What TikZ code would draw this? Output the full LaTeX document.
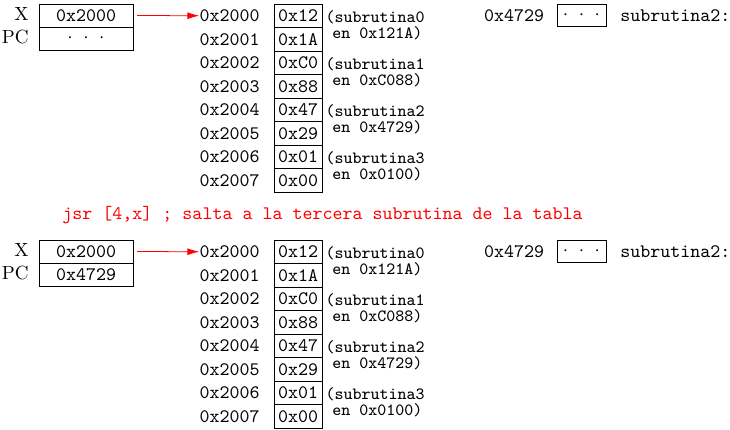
\documentclass[tikz,border=0pt]{standalone}
\usepackage{fontspec}
\usetikzlibrary{arrows.meta}
\newcommand\spreaddots{$\cdot\mkern6mu\cdot\mkern6mu\cdot$}
\tikzset{
  regcell/.style={draw, inner sep=0pt, minimum width={94*0.525pt}, minimum height={23*0.525pt}, font=\ttfamily},
  memcell/.style={draw, inner sep=0pt, minimum width={48*0.525pt}, minimum height={23.5*0.525pt}, font=\ttfamily},
  dotbox/.style={draw, inner sep=0pt, minimum width={49*0.525pt}, minimum height={22*0.525pt}},
  addr/.style={anchor=east, inner sep=0pt, font=\ttfamily},
  reglabel/.style={anchor=base east, inner sep=0pt},
  sublabel/.style={anchor=north, inner sep=0pt, align=center, font={\ttfamily\fontsize{9pt}{8.4pt}\selectfont}},
  plaintt/.style={inner sep=0pt, font=\ttfamily},
  ptr/.style={red, -{Latex[length=6.2pt,width=3.6pt]}, shorten <=2pt}
}
\newcommand\drawhalf[3]{%
  \node[regcell] (#1x) at (86,{15.5+#2}) {0x2000};
  \node[regcell] (#1pc) at (86,{38.5+#2}) {#3};
  \node[reglabel] (#1xl) at (29,{20.6+#2}) {X};
  \node[reglabel] (#1pcl) at (29,{43.6+#2}) {PC};
  \foreach \v [count=\i from 0] in {0x12,0x1A,0xC0,0x88,0x47,0x29,0x01,0x00}{
    \node[memcell] (#1m\i) at (298,{15.75+23.5*\i+#2}) {\v};
    \node[addr] (#1a\i) at (260,{15.75+23.5*\i+#2}) {0x200\i};
  }
  \foreach \k/\a in {0/0x121A,1/0xC088,2/0x4729,3/0x0100}{
    \node[sublabel] (#1s\k) at (375,{10+47*\k+#2}) {(subrutina\k\\\hspace*{2.6pt}en \a)};
  }
  \node[plaintt] (#1t) at (514,{15.5+#2}) {0x4729};
  \node[dotbox] (#1d) at (581.5,{15+#2}) {\spreaddots};
  \node[plaintt, anchor=west] (#1n) at (620,{15.5+#2}) {subrutina2:};
  \draw[ptr] (#1x.east) -- (#1a0.west);
}
\begin{document}
\begin{tikzpicture}[x=0.525pt, y=-0.525pt]
\useasboundingbox (0,0) rectangle (730,430);
\drawhalf{u}{0}{\spreaddots}
\node[plaintt, red, anchor=base] (jsr) at (322.5,219.5) {jsr [4,x] ; salta a la tercera subrutina de la tabla};
\drawhalf{l}{236}{0x4729}
\end{tikzpicture}
\end{document}
